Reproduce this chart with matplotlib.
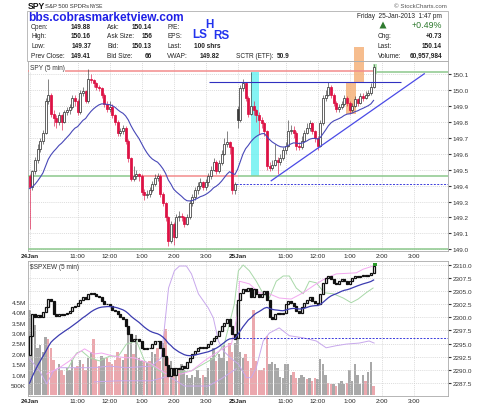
import numpy as np
import matplotlib
matplotlib.use("Agg")
import matplotlib.pyplot as plt
from matplotlib.patches import Rectangle, Polygon

plt.rcParams['font.family'] = ['Liberation Sans', 'DejaVu Sans']

# ---- SPY 5 min bars, 24 Jan (bars 0-77) and 25 Jan (bars 78-129) ----
spy_close = [149.39, 149.49, 149.56, 149.63, 149.68, 149.73, 149.93, 149.97, 149.85, 149.82,
             149.80, 149.84, 149.80, 149.86, 149.87, 149.89, 149.95, 149.93, 149.86, 149.98,
             149.99, 149.93, 150.07, 150.06, 150.04, 150.02, 150.01, 149.97, 149.91, 149.88,
             149.89, 149.84, 149.80, 149.73, 149.74, 149.76, 149.68, 149.57, 149.44, 149.46,
             149.47, 149.46, 149.36, 149.34, 149.35, 149.37, 149.41, 149.45, 149.46, 149.35,
             149.29, 149.20, 149.05, 149.16, 149.08, 149.20, 149.21, 149.20, 149.16, 149.20,
             149.29, 149.33, 149.37, 149.40, 149.42, 149.39, 149.42, 149.46, 149.50, 149.55,
             149.49, 149.54, 149.60, 149.66, 149.67, 149.64, 149.37, 149.41,
             149.81, 150.01, 150.04, 149.95, 149.85, 149.90, 149.87, 149.84, 149.81, 149.79,
             149.74, 149.52, 149.51, 149.53, 149.56, 149.55, 149.57, 149.62, 149.65, 149.74,
             149.75, 149.73, 149.65, 149.64, 149.68, 149.73, 149.76, 149.79, 149.74, 149.70,
             149.65, 149.79, 149.95, 149.97, 150.02, 149.97, 149.92, 149.88, 149.89, 149.91,
             149.95, 149.92, 149.87, 149.90, 149.94, 149.92, 149.96, 149.95, 149.97, 149.98,
             150.02, 150.14]
spy_high = [149.47, 149.50, 149.58, 149.66, 149.70, 149.75, 149.95, 150.07, 149.98, 149.87,
            149.84, 149.86, 149.85, 149.87, 149.89, 149.91, 149.97, 149.97, 149.94, 150.00,
            150.02, 150.00, 150.13, 150.10, 150.07, 150.05, 150.03, 150.02, 149.98, 149.93,
            149.93, 149.91, 149.85, 149.81, 149.76, 149.78, 149.77, 149.69, 149.58, 149.52,
            149.50, 149.48, 149.47, 149.38, 149.37, 149.39, 149.43, 149.47, 149.48, 149.47,
            149.36, 149.30, 149.21, 149.18, 149.17, 149.22, 149.24, 149.23, 149.21, 149.22,
            149.31, 149.35, 149.39, 149.42, 149.45, 149.43, 149.44, 149.48, 149.52, 149.57,
            149.56, 149.56, 149.62, 149.70, 149.74, 149.68, 149.65, 149.42,
            149.90, 150.03, 150.07, 150.05, 149.96, 150.11, 149.93, 149.88, 149.86, 149.83,
            149.80, 149.75, 149.55, 149.56, 149.66, 149.58, 149.60, 149.64, 149.67, 149.81,
            149.78, 149.77, 149.74, 149.67, 149.71, 149.75, 149.79, 149.81, 149.80, 149.75,
            149.71, 149.81, 149.97, 150.00, 150.05, 150.03, 149.98, 149.93, 149.91, 149.93,
            149.97, 149.96, 149.93, 149.92, 149.96, 149.95, 149.98, 149.98, 149.99, 150.00,
            150.04, 150.16]
spy_low = [149.13, 149.37, 149.47, 149.54, 149.61, 149.66, 149.72, 149.91, 149.83, 149.77,
           149.76, 149.78, 149.75, 149.79, 149.84, 149.85, 149.88, 149.90, 149.84, 149.85,
           149.96, 149.92, 149.92, 150.04, 150.02, 150.00, 149.99, 149.95, 149.89, 149.86,
           149.86, 149.82, 149.78, 149.71, 149.71, 149.72, 149.66, 149.55, 149.43, 149.43,
           149.44, 149.43, 149.34, 149.31, 149.32, 149.33, 149.36, 149.40, 149.43, 149.33,
           149.27, 149.18, 149.02, 149.04, 149.03, 149.07, 149.18, 149.18, 149.14, 149.15,
           149.19, 149.27, 149.31, 149.35, 149.38, 149.37, 149.37, 149.40, 149.44, 149.49,
           149.47, 149.48, 149.53, 149.59, 149.64, 149.60, 149.35, 149.35,
           149.76, 149.80, 149.99, 149.93, 149.83, 149.84, 149.84, 149.80, 149.72, 149.76,
           149.71, 149.50, 149.49, 149.50, 149.52, 149.47, 149.53, 149.56, 149.60, 149.64,
           149.72, 149.70, 149.62, 149.62, 149.63, 149.67, 149.72, 149.74, 149.72, 149.67,
           149.62, 149.64, 149.78, 149.93, 149.96, 149.95, 149.90, 149.86, 149.86, 149.88,
           149.90, 149.90, 149.85, 149.86, 149.89, 149.90, 149.91, 149.93, 149.94, 149.96,
           149.97, 150.01]
session_open = {0: 149.46, 78: 149.88}    # first bar of each day
spy_ma_start = 149.38                      # MA level carried in from the prior session

# ---- $SPXEW 5 min closes ----
ew_close = [2296.5, 2300.6, 2300.0, 2300.5, 2300.0, 2301.0, 2301.9, 2303.5, 2303.1, 2300.6,
            2300.3, 2300.6, 2300.5, 2300.6, 2300.9, 2301.2, 2301.9, 2302.2, 2302.8, 2303.4,
            2303.8, 2303.5, 2304.4, 2304.7, 2304.4, 2304.1, 2303.8, 2303.1, 2302.5, 2302.5,
            2302.2, 2301.5, 2301.2, 2300.6, 2300.0, 2299.6, 2298.4, 2296.8, 2295.5, 2295.8,
            2295.8, 2295.5, 2294.2, 2293.9, 2294.1, 2294.2, 2294.9, 2295.4, 2295.5, 2294.2,
            2292.6, 2291.0, 2288.8, 2290.4, 2289.1, 2290.4, 2290.1, 2290.7, 2290.4, 2291.4,
            2292.3, 2293.0, 2293.6, 2294.1, 2294.4, 2294.1, 2294.4, 2294.9, 2295.5, 2296.1,
            2296.5, 2297.4, 2298.4, 2299.0, 2299.6, 2298.4, 2296.8, 2295.8,
            2303.4, 2304.7, 2305.4, 2305.0, 2305.7, 2303.8, 2305.4, 2304.4, 2303.8, 2304.4,
            2305.0, 2303.4, 2300.0, 2299.6, 2300.6, 2300.9, 2300.6, 2300.9, 2302.5, 2303.1,
            2302.8, 2302.2, 2301.2, 2300.9, 2301.9, 2302.8, 2303.4, 2303.8, 2303.1, 2302.8,
            2302.5, 2304.4, 2306.6, 2307.6, 2307.9, 2307.3, 2306.6, 2306.3, 2306.9, 2307.3,
            2306.9, 2306.3, 2306.9, 2307.6, 2307.9, 2307.7, 2307.9, 2308.1, 2307.9, 2308.1,
            2308.5, 2309.8]
ew_session_open = {0: 2292.8, 78: 2296.0}
ew_ma_start = 2286.5

# volume in millions, 'u' = grey bar, 'd' = pink bar
volume = [4.1, 3.3, 3.4, 2.3, 2.4, 2.1, 2.8, 2.7, 2.3, 1.7, 1.2, 1.5, 1.2, 1.0, 1.3, 1.2, 1.7, 1.3,
          1.4, 1.7, 1.5, 1.2, 1.8, 2.1, 2.7, 1.7, 1.4, 1.9, 1.8, 1.8, 1.6, 1.5, 1.7, 2.1, 1.8, 1.7,
          2.0, 2.9, 2.5, 2.0, 2.9, 1.8, 1.65, 1.65, 1.6, 1.65, 2.1, 2.0, 2.3, 1.65, 2.5, 3.2, 1.8,
          1.65, 1.3, 1.2, 1.3, 1.5, 1.2, 1.0, 0.85, 1.0, 0.9, 1.2, 0.85, 1.0, 0.9, 1.3, 1.8, 2.3,
          1.65, 2.0, 1.8, 2.4, 1.65, 2.5, 2.1, 2.5,
          4.4, 2.1, 1.8, 2.0, 1.65, 1.3, 4.1, 1.65, 1.2, 1.2, 1.3, 2.85, 1.5, 1.6, 1.5, 1.3, 0.9,
          0.85, 1.5, 1.5, 1.0, 1.1, 0.85, 0.85, 1.0, 0.9, 0.8, 0.85, 0.7, 0.85, 0.8, 1.75, 1.5,
          1.0, 0.6, 0.55, 0.55, 0.45, 0.6, 0.7, 0.55, 0.6, 1.2, 0.7, 1.5, 1.0, 0.55, 1.0, 0.7,
          1.1, 1.6, 0.45]
vol_dir = ("uuuuuuu dddd u dd uuu dd u dd uu ddd uu dddddd u d uu d uuu d u d uu dd u dd u d u d "
           "uuuuuuuu d uuuu d uuuu dd u "
           "uuu ddddddddd uuuuuuuuu dd uuu d u dd uuuu dd u d uuu d uuuuuu d uu d").replace(' ', '')

# thin overlay lines in the lower panel: (bar, value on the $SPXEW scale)
pink_line = [(6.4, 2289.2), (11.2, 2290.4), (15.0, 2291.7), (17.6, 2293.0), (20.6, 2294.0),
             (24.0, 2293.0), (27.0, 2293.2), (31.5, 2292.6), (36.3, 2292.3), (39.0, 2292.3),
             (45.7, 2291.1), (51.3, 2289.2), (56.9, 2289.2), (60.7, 2289.8), (65.5, 2291.7),
             (69.3, 2293.0), (73.0, 2294.2), (75.7, 2294.9), (78.3, 2301.6), (78.7, 2306.9),
             (82.4, 2306.4), (86.1, 2304.7), (89.9, 2304.5), (93.6, 2303.7), (98.1, 2303.5),
             (102.6, 2304.7), (107.5, 2306.4), (111.2, 2307.5), (115.0, 2308.3), (122.5, 2308.5),
             (125.1, 2309.2), (128.8, 2309.8)]
green_line = [(13.9, 2289.8), (17.6, 2293.2), (19.5, 2293.6), (22.5, 2292.3), (26.2, 2291.7),
              (30.0, 2292.6), (33.3, 2292.6), (36.3, 2294.9), (40.1, 2295.5), (43.1, 2291.7),
              (50.6, 2289.2), (60.7, 2289.8), (69.3, 2292.3), (73.0, 2294.9), (76.8, 2302.6),
              (78.3, 2308.9), (80.1, 2310.0), (82.4, 2308.9), (85.0, 2306.9), (87.6, 2304.5),
              (89.9, 2303.7), (92.5, 2306.9), (95.1, 2307.9), (97.4, 2307.9), (100.0, 2305.6),
              (102.6, 2304.5), (104.9, 2306.9), (107.5, 2306.6), (110.5, 2304.7), (113.9, 2304.5),
              (117.6, 2303.7), (120.6, 2302.8), (123.2, 2303.5), (126.2, 2304.7), (128.8, 2305.6)]
lavender_line = [(0, 2292.1), (3.7, 2289.8), (6.4, 2287.3), (9.0, 2289.8), (11.2, 2290.4),
                 (17.6, 2290.4), (24.0, 2290.4), (30.0, 2290.7), (36.3, 2290.4), (45.7, 2290.7),
                 (49.4, 2292.3), (52.1, 2305.6), (54.3, 2308.9), (56.2, 2309.8), (58.8, 2309.8),
                 (60.7, 2308.3), (63.3, 2304.5), (67.0, 2301.8), (68.9, 2299.9), (70.8, 2295.5),
                 (72.7, 2293.6), (75.7, 2292.1), (78.3, 2291.1), (81.3, 2288.5), (83.1, 2288.5),
                 (85.0, 2290.4), (87.6, 2295.5), (89.9, 2297.0), (93.6, 2298.0), (97.4, 2296.5),
                 (102.6, 2296.1), (107.5, 2295.5), (111.2, 2294.2), (115.0, 2294.6), (118.7, 2294.9),
                 (123.6, 2295.1), (127.3, 2295.5), (129.2, 2295.1)]
lavender_low = [(24.3, 2287.7), (33.3, 2287.9), (45.7, 2287.9), (52.1, 2288.8), (58.1, 2286.9),
                (67.0, 2286.9), (71.9, 2288.3), (77.5, 2290.2)]

# hand-drawn annotations on the SPY panel
resist_hi = 150.12
support_mid = 149.46
support_lo = 149.00
spy_prev_close = 149.41
neckline = (67.4, 139.3, 150.05)
trend = [(90.6, 149.43), (148.0, 150.10)]
ew_prev_line = 2296.1

tick_pos = [0, 18, 30, 42, 54, 66, 78, 96, 108, 120, 132, 144]
tick_lab = ['24Jan', '11:00', '12:00', '1:00', '2:00', '3:00', '25Jan',
            '11:00', '12:00', '1:00', '2:00', '3:00']

W, H = 480, 406
fig = plt.figure(figsize=(W / 100, H / 100), dpi=100)
fig.patch.set_facecolor('white')


def px_axes(x0, y0, x1, y1):
    return fig.add_axes([x0 / W, 1 - y1 / H, (x1 - x0) / W, (y1 - y0) / H])


def ftext(x, y, s, **kw):
    kw.setdefault('va', 'center')
    kw.setdefault('fontsize', 4.7)
    kw.setdefault('color', '#222222')
    fig.text(x / W, 1 - y / H, s, **kw)


def ema(vals, start, span=20):
    a = 2.0 / (span + 1)
    m, out = start, []
    for v in vals:
        m = m + a * (v - m)
        out.append(m)
    return np.array(out)


def opens(close, first):
    o = np.r_[close[0], close[:-1]]
    for k, v in first.items():
        o[k] = v
    return o


def draw_candles(ax, o, h, l, c, width, lw, up_col, dn_col, min_body):
    prev = np.r_[o[0], c[:-1]]
    for i in range(len(c)):
        col = dn_col if c[i] < prev[i] else up_col
        ax.vlines(i, l[i], h[i], color=col, lw=lw * 0.8, zorder=4)
        lo, hi = min(o[i], c[i]), max(o[i], c[i])
        face = 'white' if c[i] >= o[i] else col
        ax.add_patch(Rectangle((i - width / 2, lo), width, max(hi - lo, min_body),
                               fc=face, ec=col, lw=lw, zorder=5))


def style_axes(ax):
    for s in ax.spines.values():
        s.set_color('#aaaaaa')
        s.set_linewidth(0.6)
    ax.grid(True, color='#d0d0d0', ls=(0, (1.5, 1.5)), lw=0.5)
    ax.set_axisbelow(True)
    ax.set_xlim(-0.6, 156.9)
    ax.set_xticks(tick_pos)
    ax.set_xticklabels(tick_lab)
    ax.tick_params(axis='x', length=0, labelsize=4.6, pad=1.5, colors='#222222')
    for t in ax.get_xticklabels():
        if 'Jan' in t.get_text():
            t.set_fontweight('bold')


# ---------------- top panel: SPY ----------------
ax = px_axes(28, 62, 448, 252)
style_axes(ax)
c = np.array(spy_close)
o = opens(c, session_open)
draw_candles(ax, o, np.array(spy_high), np.array(spy_low), c, 0.72, 0.55,
             '#3a3a3a', '#dd1144', 0.004)
n = len(c)
ax.plot(np.arange(n), ema(c, spy_ma_start), color='#4848b8', lw=0.8, zorder=6)

ax.hlines(resist_hi, -0.6, n - 0.5, color='#f28c8c', lw=1.1, zorder=3)
ax.hlines(resist_hi - 0.01, n - 0.5, 156.9, color='#8cc88c', lw=1.1, zorder=3)
ax.hlines(support_mid, -0.6, 38.2, color='#8cc88c', lw=1.1, zorder=3)
ax.hlines(support_mid, 38.2, 78, color='#f28c8c', lw=1.1, zorder=3)
ax.hlines(support_mid, 78, 156.9, color='#8cc88c', lw=1.1, zorder=3)
ax.hlines(support_lo, -0.6, 156.9, color='#8cc88c', lw=1.1, zorder=3)
ax.hlines(spy_prev_close, 77.5, 156.9, color='#3b3bdd', lw=0.7, ls=(0, (2, 1.5)), zorder=3)
ax.hlines(neckline[2], neckline[0], neckline[1], color='#3030c0', lw=0.8, zorder=6)
ax.plot([p[0] for p in trend], [p[1] for p in trend], color='#4a4ae6', lw=0.9, zorder=6)

ax.add_patch(Rectangle((83.1, support_mid), 3.0, 150.11 - support_mid, fc='#66f0f0',
                       ec='none', alpha=0.8, zorder=2))
ax.add_patch(Rectangle((118.7, 149.85), 3.8, 0.20, fc='#f5b27a', ec='none', alpha=0.85, zorder=2))
ax.add_patch(Rectangle((121.7, 150.05), 3.8, 0.22, fc='#f5b27a', ec='none', alpha=0.85,
                       zorder=2, clip_on=False))
ax.add_patch(Rectangle((128.8, 150.10), 1.6, 0.06, fc='#9be09b', ec='none', alpha=0.7, zorder=3))

ax.set_ylim(148.99, 150.18)
ax.yaxis.tick_right()
ax.set_yticks(np.round(np.arange(149.0, 150.15, 0.1), 1))
ax.set_yticklabels(['%.1f' % v for v in np.arange(149.0, 150.15, 0.1)])
ax.tick_params(axis='y', length=2, labelsize=4.6, pad=1.5, colors='#333333')
ax.text(0.004, 0.985, 'SPY (5 min)', transform=ax.transAxes, fontsize=4.7, va='top',
        color='#333333', bbox=dict(fc='white', ec='none', pad=0.6), zorder=7)

# ---------------- lower panel: $SPXEW + volume ----------------
axl = px_axes(28, 262, 448, 397)
axv = axl.twinx()
axl.set_zorder(axv.get_zorder() + 1)
axl.patch.set_visible(False)
style_axes(axl)
axv.set_xlim(-0.6, 156.9)
for s in axv.spines.values():
    s.set_visible(False)

vcol = ['#a8a8a8' if d == 'u' else '#eba8ae' for d in vol_dir]
axv.bar(np.arange(len(volume)), volume, width=0.85, color=vcol, edgecolor='none')
axv.set_ylim(-0.03, 6.46)
axv.yaxis.tick_left()
axv.set_yticks([0.5, 1.0, 1.5, 2.0, 2.5, 3.0, 3.5, 4.0, 4.5])
axv.set_yticklabels(['500K', '1.0M', '1.5M', '2.0M', '2.5M', '3.0M', '3.5M', '4.0M', '4.5M'])
axv.tick_params(axis='y', length=0, labelsize=4.6, pad=1.5, colors='#333333')

for pts, col in [(lavender_line, '#c8a8ec'), (lavender_low, '#c8a8ec'),
                 (green_line, '#a8d8a8'), (pink_line, '#f2a8f0')]:
    axl.plot([p[0] for p in pts], [p[1] for p in pts], color=col, lw=0.7, zorder=3)

ec = np.array(ew_close)
eo = opens(ec, ew_session_open)
draw_candles(axl, eo, np.maximum(eo, ec), np.minimum(eo, ec), ec, 0.75, 0.9,
             '#111111', '#111111', 0.08)
axl.plot(np.arange(len(ec)), ema(ec, ew_ma_start), color='#3c3cb0', lw=0.9, zorder=6)
axl.hlines(ew_prev_line, 77.5, 156.9, color='#3b3bdd', lw=0.7, ls=(0, (2, 1.5)), zorder=3)
axl.add_patch(Rectangle((128.7, ec[-1]), 1.6, 0.5, fc='#2e9b2e', ec='none', zorder=7))

axl.set_ylim(2285.0, 2310.76)
axl.yaxis.tick_right()
axl.set_yticks(np.arange(2287.5, 2310.1, 2.5))
axl.set_yticklabels(['%.1f' % v for v in np.arange(2287.5, 2310.1, 2.5)])
axl.tick_params(axis='y', length=2, labelsize=4.6, pad=1.5, colors='#333333')
axl.text(0.004, 0.985, '$SPXEW (5 min)', transform=axl.transAxes, fontsize=4.7, va='top',
         color='#333333', zorder=7)

# ---------------- header ----------------
fig.add_artist(Rectangle((27 / W, 1 - 62 / H), 421 / W, 50 / H, transform=fig.transFigure,
                         fc='none', ec='#b0b0b0', lw=0.6))
ftext(28, 6.5, 'SPY', fontsize=6.2, fontweight='bold', color='#111111')
ftext(45, 6.8, 'S&P 500 SPDRs', fontsize=4.2, color='#333333')
ftext(90, 7.0, 'NYSE', fontsize=3.6, color='#333333')
ftext(447, 6.5, '\u00a9 StockCharts.com', fontsize=4.4, ha='right', color='#555555')

ftext(28, 18, 'bbs.cobrasmarketview.com', fontsize=8.6, fontweight='bold', color='#1f1fe6')
ftext(209, 24.5, 'H', fontsize=8.4, fontweight='bold', color='#2233ee', ha='center')
ftext(200, 35, 'LS', fontsize=8.4, fontweight='bold', color='#2233ee', ha='center')
ftext(221, 36, 'RS', fontsize=8.4, fontweight='bold', color='#2233ee', ha='center')

rows = [27.5, 37, 46.5, 56]
col1 = [('Open:', '149.88'), ('High:', '150.16'), ('Low:', '149.37'), ('Prev Close:', '149.41')]
col2 = [('Ask:', '150.14'), ('Ask Size:', '156'), ('Bid:', '150.13'), ('Bid Size:', '66')]
col3 = [('P/E:', ''), ('EPS:', ''), ('Last:', '100 shrs'), ('VWAP:', '149.82')]
for y, (a, b), (cc, d), (e, f) in zip(rows, col1, col2, col3):
    ftext(31, y, a)
    ftext(91, y, b, ha='right', fontweight='bold')
    ftext(107, y, cc)
    ftext(152, y, d, ha='right', fontweight='bold')
    ftext(167, y, e)
    ftext(220, y, f, ha='right', fontweight='bold')
ftext(236, 56, 'SCTR (ETF):')
ftext(290, 56, '50.9', ha='right', fontweight='bold')

ftext(442, 16, 'Friday  25-Jan-2013  1:47 pm', ha='right')
fig.add_artist(Polygon([(379.5 / W, 1 - 29.5 / H), (386.5 / W, 1 - 29.5 / H), (383 / W, 1 - 22.5 / H)],
                       closed=True, transform=fig.transFigure, fc='#2f7a2f', ec='none'))
ftext(442, 26, '+0.49%', ha='right', fontsize=6.4, color='#2f7a2f')
ftext(378, 37, 'Chg:')
ftext(442, 37, '+0.73', ha='right', fontweight='bold')
ftext(378, 46.5, 'Last:')
ftext(442, 46.5, '150.14', ha='right', fontweight='bold')
ftext(378, 56, 'Volume:')
ftext(442, 56, '60,957,984', ha='right', fontweight='bold')

fig.savefig('out.png', dpi=100)
